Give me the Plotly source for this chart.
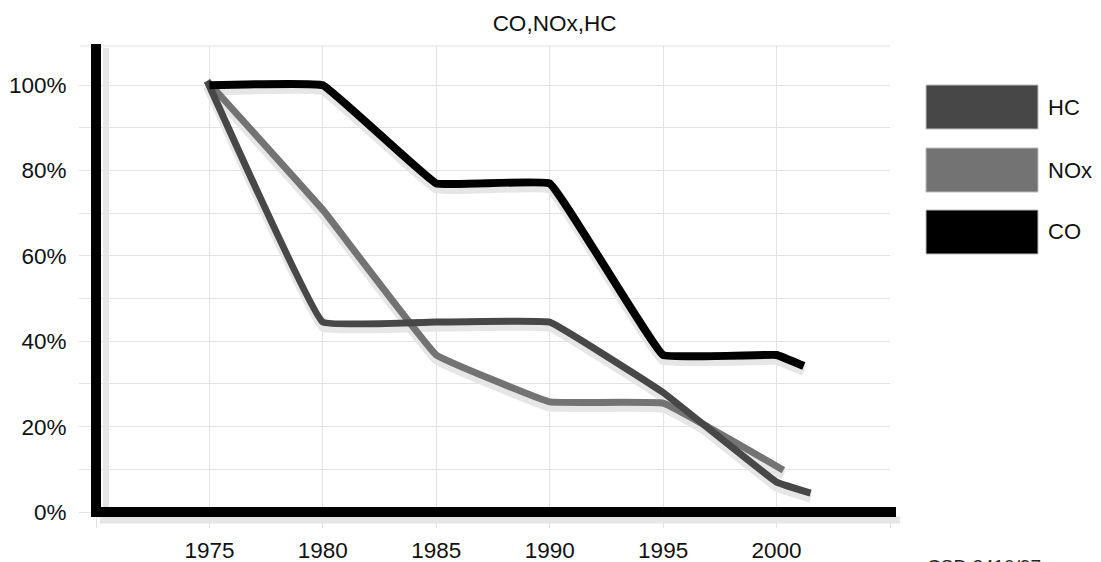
import plotly.graph_objects as go

# ---- data ----
years_co = [1975, 1980, 1985, 1990, 1995, 2000, 2001.2]
co = [100, 100, 77, 77, 36.8, 36.8, 34.2]

years_hc = [1974.9, 1980, 1985, 1990, 1995, 2000, 2001.5]
hc = [101, 44.5, 44.5, 44.5, 28, 7, 4.4]

years_nox = [1974.9, 1980, 1985, 1990, 1995, 2000.3]
nox = [101, 70.8, 36.8, 25.8, 25.5, 9.8]

series_names = ["HC", "NOx", "CO"]
series_colors = ["#474747", "#737373", "#000000"]

x_ticks = [1970, 1975, 1980, 1985, 1990, 1995, 2000, 2005]
x_ticktext = ["", "1975", "1980", "1985", "1990", "1995", "2000", ""]
y_ticks = [0, 10, 20, 30, 40, 50, 60, 70, 80, 90, 100]
y_ticktext = ["0%", "", "20%", "", "40%", "", "60%", "", "80%", "", "100%"]

# ---- layout geometry (page pixels; page body has an 8px margin) ----
OFF = 8
W, H = 1101 - OFF, 562 - OFF
L, R, T, B = 96 - OFF, 890 - OFF, 46 - OFF, 512 - OFF
FONT = "Liberation Sans"
GRID = "#e3e3e3"
SHADOW = "#e6e6e6"
YMAX = 109.2


def px(xp):
    """page x pixel -> paper coordinate"""
    return (xp - OFF - L) / (R - L)


def py(yp):
    """page y pixel -> paper coordinate"""
    return (B - (yp - OFF)) / (B - T)


fig = go.Figure()

y_per_px = YMAX / (B - T)
sh = 5 * y_per_px  # shadow drop (5 px)

data = [
    ("NOx", years_nox, nox, series_colors[1], 7),
    ("HC", years_hc, hc, series_colors[0], 7),
    ("CO", years_co, co, series_colors[2], 8),
]

for name, xs, ys, col, w in data:
    fig.add_trace(go.Scatter(
        x=xs, y=[v - sh for v in ys], mode="lines",
        line=dict(color=SHADOW, width=w + 2, shape="spline", smoothing=0.2),
        hoverinfo="skip", showlegend=False, cliponaxis=False))

for name, xs, ys, col, w in data:
    fig.add_trace(go.Scatter(
        x=xs, y=ys, mode="lines", name=name,
        line=dict(color=col, width=w, shape="spline", smoothing=0.2),
        showlegend=False, cliponaxis=False))

shapes = []
shapes.append(dict(type="line", xref="paper", yref="paper",
                   x0=px(80), x1=1, y0=1, y1=1,
                   line=dict(color=GRID, width=1)))
shapes.append(dict(type="line", xref="paper", yref="paper",
                   x0=px(106), x1=px(106), y0=py(512), y1=py(48),
                   line=dict(color=SHADOW, width=6)))
shapes.append(dict(type="line", xref="paper", yref="paper",
                   x0=px(100), x1=px(900), y0=py(520), y1=py(520),
                   line=dict(color=SHADOW, width=7)))
shapes.append(dict(type="line", xref="paper", yref="paper",
                   x0=px(96), x1=px(96), y0=py(517), y1=py(44),
                   line=dict(color="black", width=10)))
shapes.append(dict(type="line", xref="paper", yref="paper",
                   x0=px(91), x1=px(896), y0=py(512), y1=py(512),
                   line=dict(color="black", width=10)))

annotations = []
leg_y = [107, 170, 232]
for name, col, yc in zip(series_names, series_colors, leg_y):
    shapes.append(dict(type="rect", xref="paper", yref="paper",
                       x0=px(926), x1=px(1038), y0=py(yc + 22), y1=py(yc - 22),
                       fillcolor=col, line=dict(color="#bdbdbd", width=1)))
    annotations.append(dict(text=name, xref="paper", yref="paper",
                            x=px(1046), y=py(yc), xanchor="left", yanchor="middle",
                            showarrow=False, font=dict(family=FONT, size=22, color="#111")))

annotations.append(dict(text="CSD 2410/97", xref="paper", yref="paper",
                        x=px(925), y=py(554), xanchor="left", yanchor="top",
                        showarrow=False, font=dict(family=FONT, size=19, color="#222")))

tickfont = dict(family=FONT, size=22.5, color="#111")

fig.update_layout(
    width=W, height=H,
    margin=dict(l=L, r=W - R, t=T, b=H - B, pad=0, autoexpand=False),
    paper_bgcolor="white", plot_bgcolor="white",
    title=dict(text="CO,NOx,HC", x=px(493), xanchor="center",
               y=1 - (23 - OFF) / H, yanchor="middle",
               font=dict(family=FONT, size=22.5, color="#111")),
    showlegend=False,
    shapes=shapes,
    annotations=annotations,
    xaxis=dict(range=[1970, 2005], tickvals=x_ticks, ticktext=x_ticktext,
               showgrid=True, gridcolor=GRID, gridwidth=1,
               ticks="outside", ticklen=15, tickcolor=GRID, tickwidth=1,
               ticklabelstandoff=3, showline=False, zeroline=False,
               automargin=False, tickfont=tickfont),
    yaxis=dict(range=[0, YMAX], tickvals=y_ticks, ticktext=y_ticktext,
               showgrid=True, gridcolor=GRID, gridwidth=1,
               ticks="outside", ticklen=16, tickcolor=GRID, tickwidth=1,
               ticklabelstandoff=8, showline=False, zeroline=False,
               automargin=False, tickfont=tickfont),
)

fig.write_html("out.html")
